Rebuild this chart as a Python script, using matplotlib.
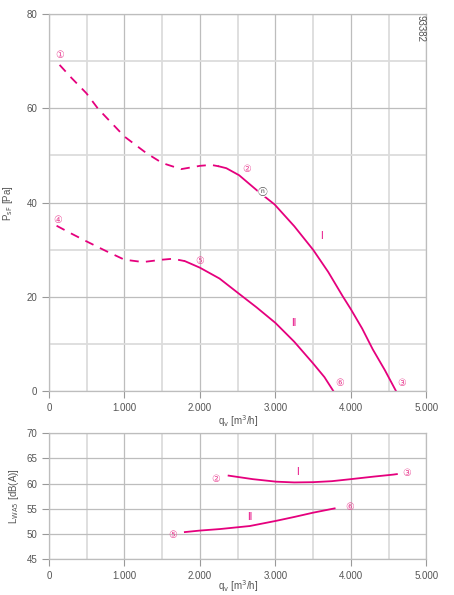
import matplotlib
matplotlib.use("Agg")
import matplotlib.pyplot as plt
from matplotlib.ticker import MultipleLocator, FuncFormatter

plt.rcParams['font.family'] = ['Liberation Sans', 'DejaVu Sans']

MAG = '#e5007d'
PINK = '#ea4b98'
TXT = '#555555'

# --- pressure curves (q_v in m3/h, p_sF in Pa)
q1_dash = [140, 300, 495, 650, 1000, 1290, 1500, 1750, 2000, 2150, 2250]
p1_dash = [69.2, 66.4, 63.2, 59.9, 54.0, 50.5, 48.4, 47.1, 47.8, 48.0, 47.7]
q1_solid = [2250, 2350, 2520, 2770, 2990, 3250, 3500, 3700, 3890, 4000, 4150, 4290, 4450, 4600]
p1_solid = [47.7, 47.3, 45.8, 42.4, 39.6, 35.0, 30.0, 25.3, 20.2, 17.4, 13.3, 8.9, 4.5, 0.0]

q2_dash = [100, 300, 495, 760, 1000, 1245, 1500, 1640, 1800]
p2_dash = [35.1, 33.4, 31.8, 29.7, 27.9, 27.4, 27.9, 28.1, 27.6]
q2_solid = [1800, 2000, 2260, 2500, 2750, 3000, 3250, 3500, 3650, 3770]
p2_solid = [27.6, 26.2, 23.9, 20.9, 17.8, 14.5, 10.5, 5.9, 3.0, 0.0]

# --- sound power curves
qL1 = [2380, 2700, 3010, 3250, 3500, 3750, 4000, 4300, 4560, 4610]
L1 = [61.6, 60.9, 60.4, 60.25, 60.3, 60.5, 60.9, 61.4, 61.8, 61.9]
qL2 = [1800, 2000, 2265, 2660, 3000, 3250, 3500, 3785]
L2 = [50.4, 50.7, 51.0, 51.6, 52.6, 53.4, 54.25, 55.1]

fig = plt.figure(figsize=(4.54, 5.95), dpi=100)
ax1 = fig.add_axes([0.108, 0.3424, 0.831, 0.6341])
ax2 = fig.add_axes([0.108, 0.0600, 0.831, 0.2118])

thousands = FuncFormatter(lambda v, pos: f"{int(v):,}".replace(",", "."))


def style(ax, ymaj, ymin):
    ax.set_xlim(0, 5000)
    ax.xaxis.set_major_locator(MultipleLocator(1000))
    ax.xaxis.set_minor_locator(MultipleLocator(500))
    ax.yaxis.set_major_locator(MultipleLocator(ymaj))
    if ymin:
        ax.yaxis.set_minor_locator(MultipleLocator(ymin))
    ax.xaxis.set_major_formatter(thousands)
    ax.grid(which='major', color='#bdbdbd', lw=0.9)
    ax.grid(which='minor', color='#dcdcdc', lw=1.3)
    ax.set_axisbelow(True)
    for s in ax.spines.values():
        s.set_color('#bdbdbd')
        s.set_linewidth(0.9)
    ax.tick_params(which='major', colors='#999999', labelcolor=TXT, labelsize=7, length=5, width=0.8)
    ax.tick_params(which='minor', length=0)


style(ax1, 20, 10)
ax1.set_ylim(0, 80)
style(ax2, 5, None)
ax2.set_ylim(45, 70)

ax1.plot(q1_dash, p1_dash, color=MAG, lw=1.3, dashes=(5, 4))
ax1.plot(q1_solid, p1_solid, color=MAG, lw=1.3)
ax1.plot(q2_dash, p2_dash, color=MAG, lw=1.3, dashes=(5, 4))
ax1.plot(q2_solid, p2_solid, color=MAG, lw=1.3)

ax2.plot(qL1, L1, color=MAG, lw=1.3)
ax2.plot(qL2, L2, color=MAG, lw=1.3)

lab = dict(color=PINK, fontsize=7, ha='center', va='center', family=['DejaVu Sans'])
ax1.text(146, 71.3, '\u2460', **lab)
ax1.text(2618, 47.2, '\u2461', **lab)
ax1.text(4671, 1.8, '\u2462', **lab)
ax1.text(110, 36.4, '\u2463', **lab)
ax1.text(2000, 27.7, '\u2464', **lab)
ax1.text(3854, 1.8, '\u2465', **lab)
ax1.text(2830, 42.2, '\u24dd', color='#555555', fontsize=7, ha='center', va='center',
         family=['Noto Sans CJK JP', 'DejaVu Sans'],
         bbox=dict(boxstyle='circle,pad=0.02', fc='white', ec='none'))
ax1.text(3612, 33.0, 'I', color=MAG, fontsize=7, ha='center', va='center')
ax1.text(3245, 14.4, 'II', color=MAG, fontsize=7, ha='center', va='center')
ax1.text(4921, 77.0, '93382', color=TXT, fontsize=7, rotation=-90, ha='center', va='center')

ax2.text(2208, 60.9, '\u2461', **lab)
ax2.text(4737, 62.2, '\u2462', **lab)
ax2.text(1633, 49.8, '\u2464', **lab)
ax2.text(3987, 55.3, '\u2465', **lab)
ax2.text(3294, 62.3, 'I', color=MAG, fontsize=7, ha='center', va='center')
ax2.text(2662, 53.3, 'II', color=MAG, fontsize=7, ha='center', va='center')

ax1.set_ylabel(r'P$_{\mathrm{sF}}$ [Pa]', color=TXT, fontsize=7, labelpad=8)
ax1.set_xlabel(r'q$_{\mathrm{v}}$ [m$^3$/h]', color=TXT, fontsize=7)
ax1.xaxis.set_label_coords(0.5, -0.058)
ax2.set_ylabel(r'L$_{\mathrm{WA5}}$ [dB(A)]', color=TXT, fontsize=7, labelpad=4)
ax2.set_xlabel(r'q$_{\mathrm{v}}$ [m$^3$/h]', color=TXT, fontsize=7)
ax2.xaxis.set_label_coords(0.5, -0.15)

fig.savefig('out.png', dpi=100)
